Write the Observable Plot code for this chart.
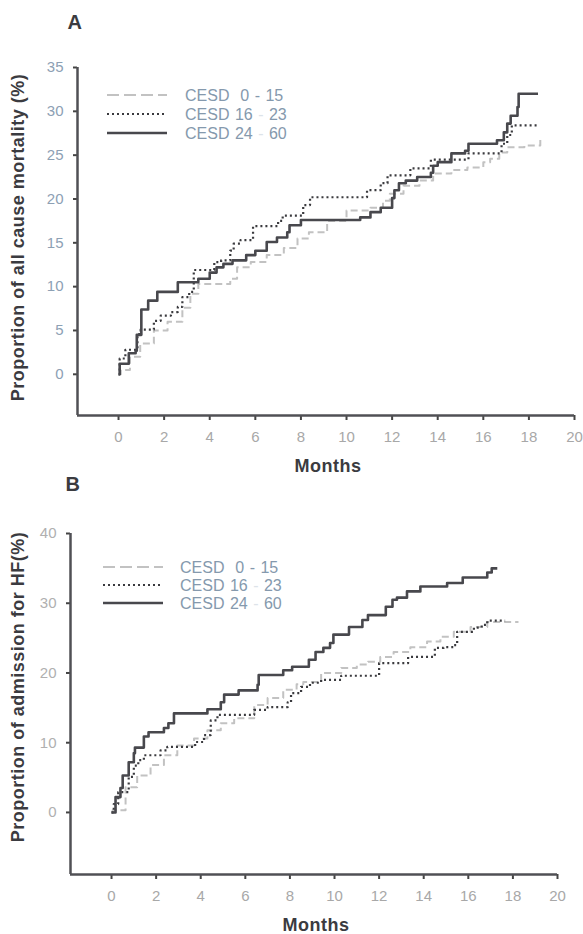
<!DOCTYPE html>
<html><head><meta charset="utf-8">
<script src="https://cdn.jsdelivr.net/npm/d3@7"></script>
<script src="https://cdn.jsdelivr.net/npm/@observablehq/plot@0.6"></script>
<style>
body{margin:0;background:#fff;}
#wrap{position:relative;width:583px;height:934px;font-family:"Liberation Sans",Arial,sans-serif;}
#wrap svg{position:absolute;left:0;}
</style></head><body><div id="wrap"></div>
<script>
// ---------- DATA ----------
const xTicks = [0, 2, 4, 6, 8, 10, 12, 14, 16, 18, 20];
const yTicksA = [0, 5, 10, 15, 20, 25, 30, 35];
const yTicksB = [0, 10, 20, 30, 40];
const groups = ["CESD 0 - 15", "CESD 16 - 23", "CESD 24 - 60"];
const legendParts = [["CESD  0 ", "- ", "15"], ["CESD 16 ", "- ", "23"], ["CESD 24 ", "- ", "60"]];

// Panel A: all cause mortality (%)
const aLowT  = [0, 0.1, 0.5, 0.95, 1.55, 2.15, 2.8, 3.15, 3.5, 4.9, 5.2, 5.8, 6.5, 7.25, 7.85, 8.35, 9.15, 10.0, 11.05, 11.6, 11.9, 12.5, 13.2, 13.8, 14.6, 15.3, 16.0, 16.3, 16.7, 17.05, 17.8, 18.5];
const aLowV  = [0, 0.5, 2.0, 3.5, 5.0, 6.0, 7.6, 9.2, 10.3, 10.9, 12.2, 12.8, 13.6, 14.4, 15.5, 16.2, 17.5, 18.7, 19.0, 19.8, 20.6, 21.5, 22.1, 22.9, 23.3, 23.6, 24.2, 24.6, 25.3, 25.9, 26.1, 26.9];
const aMidT  = [0, 0.05, 0.3, 0.83, 0.97, 1.55, 1.85, 2.3, 2.6, 2.8, 3.1, 3.3, 4.2, 4.5, 4.9, 5.05, 5.35, 5.9, 7.0, 7.2, 8.1, 8.4, 10.9, 11.5, 11.8, 12.8, 13.7, 15.35, 16.8, 17.05, 17.25, 18.4];
const aMidV  = [0, 1.8, 2.8, 4.6, 5.1, 6.1, 6.7, 7.1, 7.7, 8.8, 9.4, 11.9, 12.8, 13.0, 14.1, 14.9, 15.3, 16.9, 17.5, 18.1, 19.3, 20.2, 21.0, 21.8, 22.7, 23.5, 24.5, 25.2, 26.3, 27.3, 28.4, 28.4];
const aHighT = [0, 0.05, 0.45, 0.75, 0.8, 1.0, 1.3, 1.7, 2.6, 3.5, 4.0, 4.3, 4.6, 5.0, 5.6, 6.0, 6.5, 6.95, 7.4, 7.5, 8.0, 10.6, 11.05, 11.5, 12.0, 12.1, 12.3, 12.6, 13.1, 13.7, 13.8, 14.0, 14.6, 15.2, 15.35, 16.6, 16.9, 17.05, 17.2, 17.5, 17.55, 18.4];
const aHighV = [0, 1.2, 2.4, 2.7, 4.5, 7.4, 8.4, 9.4, 10.5, 10.9, 11.6, 12.2, 12.6, 13.0, 13.6, 14.1, 15.1, 15.6, 16.2, 17.0, 17.6, 17.9, 18.5, 19.0, 20.1, 21.0, 21.8, 22.1, 22.5, 23.0, 23.8, 24.2, 25.2, 25.5, 26.3, 26.7, 27.6, 28.6, 29.5, 30.5, 32.0, 32.0];

// Panel B: admission for HF (%)
const bLowT  = [0, 0.05, 0.63, 1.15, 1.75, 2.35, 2.95, 3.7, 4.3, 4.9, 5.5, 6.4, 7.0, 7.7, 8.3, 8.6, 9.4, 10.3, 11.0, 11.5, 12.05, 12.65, 13.4, 14.15, 14.75, 15.35, 16.1, 16.85, 18.25];
const bLowV  = [0, 0.3, 3.6, 5.3, 6.8, 8.2, 9.6, 10.6, 11.8, 12.8, 13.5, 15.4, 16.4, 17.6, 18.4, 18.7, 20.0, 20.7, 21.2, 21.6, 22.3, 23.0, 23.7, 24.5, 25.2, 25.9, 26.6, 27.3, 27.3];
const bMidT  = [0, 0.1, 0.3, 0.77, 1.0, 1.2, 1.45, 2.2, 2.5, 3.75, 4.15, 4.45, 4.75, 6.4, 7.0, 7.9, 8.05, 8.5, 8.9, 9.4, 10.3, 12.0, 13.3, 14.5, 14.9, 15.35, 15.5, 16.25, 16.6, 16.85, 17.65];
const bMidV  = [0, 1.2, 2.9, 5.1, 6.7, 7.5, 8.2, 8.9, 9.4, 10.1, 11.1, 13.2, 14.0, 14.7, 15.1, 15.8, 17.1, 18.0, 18.6, 19.0, 19.6, 21.4, 22.3, 23.6, 23.7, 24.0, 25.9, 26.5, 26.9, 27.5, 27.5];
const bHighT = [0, 0.18, 0.4, 0.5, 0.77, 1.0, 1.05, 1.45, 1.66, 2.35, 2.55, 2.8, 4.3, 4.9, 5.05, 5.7, 6.55, 6.6, 7.7, 8.1, 8.85, 9.15, 9.5, 9.8, 9.95, 10.65, 11.25, 11.5, 12.3, 12.6, 12.8, 13.25, 13.85, 15.05, 15.75, 16.85, 17.05, 17.3];
const bHighV = [0, 2.2, 3.5, 5.3, 7.2, 8.5, 9.3, 10.9, 11.5, 12.1, 12.8, 14.2, 14.8, 15.8, 16.9, 17.5, 18.3, 19.7, 20.4, 20.9, 21.9, 23.0, 23.6, 24.3, 25.5, 26.6, 27.6, 28.3, 29.5, 30.5, 30.8, 31.7, 32.4, 32.9, 33.7, 34.4, 35.0, 35.0];

// ---------- STYLES ----------
const lineStyles = [
  {stroke: "#c2c2c2", strokeWidth: 2, strokeDasharray: "7,4", strokeLinecap: "butt"},
  {stroke: "#3a3a3e", strokeWidth: 2.2, strokeDasharray: "2,3", strokeLinecap: "butt"},
  {stroke: "#48484d", strokeWidth: 2.6, strokeDasharray: null, strokeLinecap: "butt"}
];
const dark = "#3b3b40";

function rows(T, V) { return T.map((t, i) => ({t, v: V[i]})); }

function panel(cfg) {
  const seriesMarks = cfg.series.map((s, i) =>
    Plot.line(rows(s[0], s[1]), {x: "t", y: "v", curve: "step-after", ...Object.fromEntries(Object.entries(lineStyles[i]).filter(([k, v]) => v != null))})
  );
  const svg = Plot.plot({
    width: 583,
    height: cfg.height,
    marginLeft: cfg.ml, marginRight: cfg.mr, marginTop: cfg.mt, marginBottom: cfg.mb,
    style: {fontFamily: "'Liberation Sans', Arial, sans-serif", background: "transparent", overflow: "visible"},
    x: {domain: cfg.xDomain},
    y: {domain: cfg.yDomain},
    marks: [
      Plot.axisY(cfg.yTicks, {anchor: "left", tickSize: 4, tickPadding: 10, stroke: "#444", strokeWidth: 2, fill: cfg.yTextColor, fontSize: 15, label: null}),
      Plot.axisX(xTicks, {anchor: "bottom", tickSize: 5, tickPadding: 11, stroke: "#444", strokeWidth: 2, fill: "#a8a8a8", fontSize: 15, label: null}),
      Plot.ruleX([cfg.xDomain[0]], {stroke: "#505055", strokeWidth: 2.5}),
      Plot.ruleY([cfg.yDomain[0]], {stroke: "#505055", strokeWidth: 2.5}),
      ...seriesMarks,
      Plot.text([cfg.yLabel], {text: d => d, frameAnchor: "left", textAnchor: "middle", lineAnchor: "middle", rotate: -90, dx: cfg.yLabelDx, dy: cfg.yLabelDy, fontWeight: "bold", fontSize: 18, fill: dark, className: "spaced"}),
      Plot.text(["Months"], {text: d => d, frameAnchor: "bottom", textAnchor: "middle", lineAnchor: "middle", dx: cfg.monthsDx, dy: 51, fontWeight: "bold", fontSize: 18, fill: dark, className: "spaced"}),
      Plot.text([cfg.letter], {text: d => d, frameAnchor: "top-left", textAnchor: "start", lineAnchor: "top", dx: cfg.letterDx, dy: cfg.letterDy, fontWeight: "bold", fontSize: 20, fill: dark})
    ]
  });
  svg.style.top = cfg.top + "px";
  d3.select(svg).selectAll("g.spaced text").attr("letter-spacing", "0.5px");
  // legend
  const g = d3.select(svg).append("g");
  legendParts.forEach((parts, i) => {
    const y = cfg.legY + i * cfg.legGap;
    const st = lineStyles[i];
    g.append("line").attr("x1", cfg.legX0).attr("x2", cfg.legX1).attr("y1", y).attr("y2", y)
      .attr("stroke", st.stroke).attr("stroke-width", st.strokeWidth)
      .attr("stroke-dasharray", st.strokeDasharray === "7,4" ? "12,5" : st.strokeDasharray);
    const t = g.append("text").attr("x", cfg.legTx).attr("y", y).attr("dy", "0.35em")
      .attr("text-anchor", "start").attr("font-size", 16).attr("word-spacing", "1px").attr("fill", "#8599ad");
    parts.forEach((p, j) => {
      t.append("tspan").text(p).attr("fill", j === 1 ? (i === 0 ? "#8599ad" : "#dde3e9") : "#8599ad");
    });
  });
  return svg;
}

const wrap = document.getElementById("wrap");
wrap.appendChild(panel({
  top: 0, height: 480, ml: 77, mr: 9, mt: 67, mb: 65,
  xDomain: [-1.8, 20], yDomain: [-4.7, 35], yTicks: yTicksA, yTextColor: "#8da0b4",
  series: [[aLowT, aLowV], [aMidT, aMidV], [aHighT, aHighV]],
  yLabel: "Proportion of all cause mortality (%)", yLabelDx: -59, yLabelDy: -4,
  monthsDx: 2, letter: "A", letterDx: -10, letterDy: -53,
  legX0: 107, legX1: 167, legTx: 185, legY: 95, legGap: 19
}));
wrap.appendChild(panel({
  top: 460, height: 474, ml: 70, mr: 26, mt: 73, mb: 60,
  xDomain: [-1.84, 20], yDomain: [-8.9, 40], yTicks: yTicksB, yTextColor: "#b0b0b0",
  series: [[bLowT, bLowV], [bMidT, bMidV], [bHighT, bHighV]],
  yLabel: "Proportion of admission for HF(%)", yLabelDx: -52, yLabelDy: -17,
  monthsDx: 2, letter: "B", letterDx: -5, letterDy: -57,
  legX0: 103, legX1: 163, legTx: 180, legY: 107, legGap: 18
}));
</script></body></html>
